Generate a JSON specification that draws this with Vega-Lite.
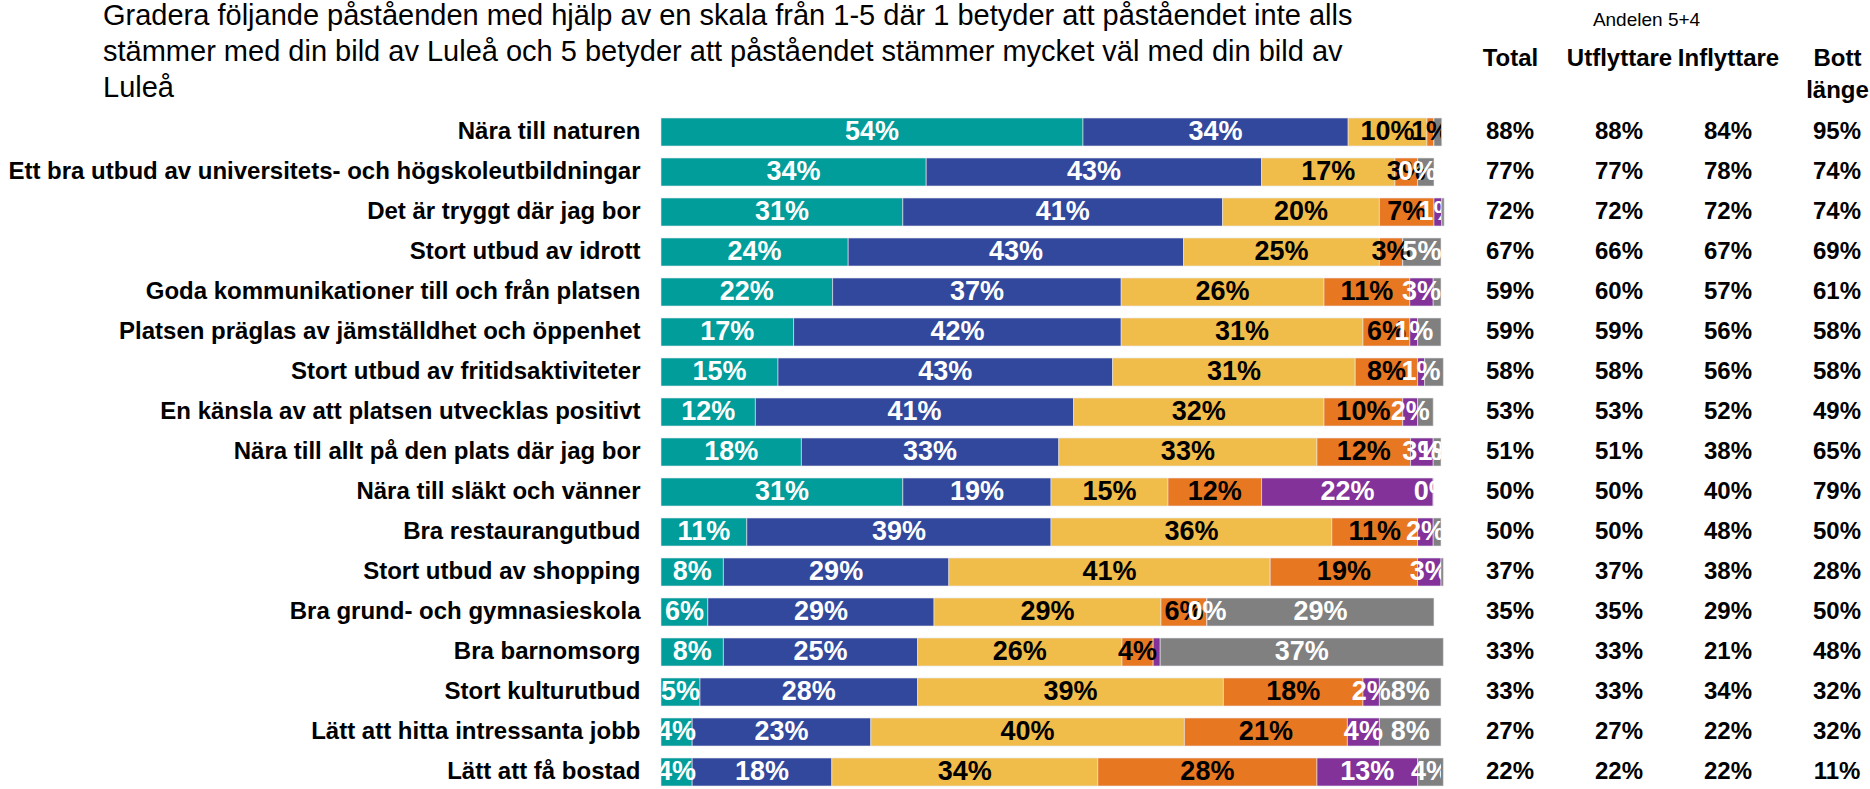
{
  "$schema": "https://vega.github.io/schema/vega-lite/v6.json",
  "padding": {"left": 7, "top": 1, "right": 0, "bottom": 0},
  "background": "white",
  "config": {"view": {"stroke": null}, "font": "Liberation Sans"},
  "bounds": "flush",
  "spacing": 40,
  "datasets": {
    "bars": [
      {"item": "Nära till naturen", "cat": "5", "v": 54.1, "lbl": "54%"},
      {"item": "Nära till naturen", "cat": "4", "v": 34.0, "lbl": "34%"},
      {"item": "Nära till naturen", "cat": "3", "v": 10.1, "lbl": "10%"},
      {"item": "Nära till naturen", "cat": "2", "v": 0.9, "lbl": "1%"},
      {"item": "Nära till naturen", "cat": "1", "v": 0, "lbl": ""},
      {"item": "Nära till naturen", "cat": "Vet ej", "v": 1.0, "lbl": ""},
      {"item": "Ett bra utbud av universitets- och högskoleutbildningar", "cat": "5", "v": 34.0, "lbl": "34%"},
      {"item": "Ett bra utbud av universitets- och högskoleutbildningar", "cat": "4", "v": 43.0, "lbl": "43%"},
      {"item": "Ett bra utbud av universitets- och högskoleutbildningar", "cat": "3", "v": 17.1, "lbl": "17%"},
      {"item": "Ett bra utbud av universitets- och högskoleutbildningar", "cat": "2", "v": 2.9, "lbl": "3%"},
      {"item": "Ett bra utbud av universitets- och högskoleutbildningar", "cat": "1", "v": 0, "lbl": "0%"},
      {"item": "Ett bra utbud av universitets- och högskoleutbildningar", "cat": "Vet ej", "v": 2.1, "lbl": ""},
      {"item": "Det är tryggt där jag bor", "cat": "5", "v": 31.0, "lbl": "31%"},
      {"item": "Det är tryggt där jag bor", "cat": "4", "v": 41.0, "lbl": "41%"},
      {"item": "Det är tryggt där jag bor", "cat": "3", "v": 20.1, "lbl": "20%"},
      {"item": "Det är tryggt där jag bor", "cat": "2", "v": 7.0, "lbl": "7%"},
      {"item": "Det är tryggt där jag bor", "cat": "1", "v": 1.0, "lbl": "1%"},
      {"item": "Det är tryggt där jag bor", "cat": "Vet ej", "v": 0.3, "lbl": ""},
      {"item": "Stort utbud av idrott", "cat": "5", "v": 24.0, "lbl": "24%"},
      {"item": "Stort utbud av idrott", "cat": "4", "v": 43.0, "lbl": "43%"},
      {"item": "Stort utbud av idrott", "cat": "3", "v": 25.1, "lbl": "25%"},
      {"item": "Stort utbud av idrott", "cat": "2", "v": 3.0, "lbl": "3%"},
      {"item": "Stort utbud av idrott", "cat": "1", "v": 0, "lbl": ""},
      {"item": "Stort utbud av idrott", "cat": "Vet ej", "v": 4.9, "lbl": "5%"},
      {"item": "Goda kommunikationer till och från platsen", "cat": "5", "v": 22.0, "lbl": "22%"},
      {"item": "Goda kommunikationer till och från platsen", "cat": "4", "v": 37.0, "lbl": "37%"},
      {"item": "Goda kommunikationer till och från platsen", "cat": "3", "v": 26.0, "lbl": "26%"},
      {"item": "Goda kommunikationer till och från platsen", "cat": "2", "v": 11.0, "lbl": "11%"},
      {"item": "Goda kommunikationer till och från platsen", "cat": "1", "v": 3.0, "lbl": "3%"},
      {"item": "Goda kommunikationer till och från platsen", "cat": "Vet ej", "v": 1.0, "lbl": ""},
      {"item": "Platsen präglas av jämställdhet och öppenhet", "cat": "5", "v": 17.0, "lbl": "17%"},
      {"item": "Platsen präglas av jämställdhet och öppenhet", "cat": "4", "v": 42.0, "lbl": "42%"},
      {"item": "Platsen präglas av jämställdhet och öppenhet", "cat": "3", "v": 31.0, "lbl": "31%"},
      {"item": "Platsen präglas av jämställdhet och öppenhet", "cat": "2", "v": 6.0, "lbl": "6%"},
      {"item": "Platsen präglas av jämställdhet och öppenhet", "cat": "1", "v": 1.0, "lbl": "1%"},
      {"item": "Platsen präglas av jämställdhet och öppenhet", "cat": "Vet ej", "v": 3.0, "lbl": ""},
      {"item": "Stort utbud av fritidsaktiviteter", "cat": "5", "v": 15.0, "lbl": "15%"},
      {"item": "Stort utbud av fritidsaktiviteter", "cat": "4", "v": 42.9, "lbl": "43%"},
      {"item": "Stort utbud av fritidsaktiviteter", "cat": "3", "v": 31.1, "lbl": "31%"},
      {"item": "Stort utbud av fritidsaktiviteter", "cat": "2", "v": 8.0, "lbl": "8%"},
      {"item": "Stort utbud av fritidsaktiviteter", "cat": "1", "v": 0.9, "lbl": "1%"},
      {"item": "Stort utbud av fritidsaktiviteter", "cat": "Vet ej", "v": 2.4, "lbl": ""},
      {"item": "En känsla av att platsen utvecklas positivt", "cat": "5", "v": 12.1, "lbl": "12%"},
      {"item": "En känsla av att platsen utvecklas positivt", "cat": "4", "v": 40.8, "lbl": "41%"},
      {"item": "En känsla av att platsen utvecklas positivt", "cat": "3", "v": 32.1, "lbl": "32%"},
      {"item": "En känsla av att platsen utvecklas positivt", "cat": "2", "v": 10.1, "lbl": "10%"},
      {"item": "En känsla av att platsen utvecklas positivt", "cat": "1", "v": 1.9, "lbl": "2%"},
      {"item": "En känsla av att platsen utvecklas positivt", "cat": "Vet ej", "v": 2.0, "lbl": ""},
      {"item": "Nära till allt på den plats där jag bor", "cat": "5", "v": 18.0, "lbl": "18%"},
      {"item": "Nära till allt på den plats där jag bor", "cat": "4", "v": 33.0, "lbl": "33%"},
      {"item": "Nära till allt på den plats där jag bor", "cat": "3", "v": 33.1, "lbl": "33%"},
      {"item": "Nära till allt på den plats där jag bor", "cat": "2", "v": 12.0, "lbl": "12%"},
      {"item": "Nära till allt på den plats där jag bor", "cat": "1", "v": 2.9, "lbl": "3%"},
      {"item": "Nära till allt på den plats där jag bor", "cat": "Vet ej", "v": 1.0, "lbl": "1%"},
      {"item": "Nära till släkt och vänner", "cat": "5", "v": 31.0, "lbl": "31%"},
      {"item": "Nära till släkt och vänner", "cat": "4", "v": 19.0, "lbl": "19%"},
      {"item": "Nära till släkt och vänner", "cat": "3", "v": 15.0, "lbl": "15%"},
      {"item": "Nära till släkt och vänner", "cat": "2", "v": 12.0, "lbl": "12%"},
      {"item": "Nära till släkt och vänner", "cat": "1", "v": 22.0, "lbl": "22%"},
      {"item": "Nära till släkt och vänner", "cat": "Vet ej", "v": 0, "lbl": "0%"},
      {"item": "Bra restaurangutbud", "cat": "5", "v": 11.0, "lbl": "11%"},
      {"item": "Bra restaurangutbud", "cat": "4", "v": 39.0, "lbl": "39%"},
      {"item": "Bra restaurangutbud", "cat": "3", "v": 36.0, "lbl": "36%"},
      {"item": "Bra restaurangutbud", "cat": "2", "v": 11.0, "lbl": "11%"},
      {"item": "Bra restaurangutbud", "cat": "1", "v": 2.0, "lbl": "2%"},
      {"item": "Bra restaurangutbud", "cat": "Vet ej", "v": 1.0, "lbl": ""},
      {"item": "Stort utbud av shopping", "cat": "5", "v": 8.0, "lbl": "8%"},
      {"item": "Stort utbud av shopping", "cat": "4", "v": 28.9, "lbl": "29%"},
      {"item": "Stort utbud av shopping", "cat": "3", "v": 41.2, "lbl": "41%"},
      {"item": "Stort utbud av shopping", "cat": "2", "v": 18.9, "lbl": "19%"},
      {"item": "Stort utbud av shopping", "cat": "1", "v": 3.0, "lbl": "3%"},
      {"item": "Stort utbud av shopping", "cat": "Vet ej", "v": 0.3, "lbl": ""},
      {"item": "Bra grund- och gymnasieskola", "cat": "5", "v": 6.0, "lbl": "6%"},
      {"item": "Bra grund- och gymnasieskola", "cat": "4", "v": 29.0, "lbl": "29%"},
      {"item": "Bra grund- och gymnasieskola", "cat": "3", "v": 29.1, "lbl": "29%"},
      {"item": "Bra grund- och gymnasieskola", "cat": "2", "v": 5.9, "lbl": "6%"},
      {"item": "Bra grund- och gymnasieskola", "cat": "1", "v": 0, "lbl": "0%"},
      {"item": "Bra grund- och gymnasieskola", "cat": "Vet ej", "v": 29.1, "lbl": "29%"},
      {"item": "Bra barnomsorg", "cat": "5", "v": 8.0, "lbl": "8%"},
      {"item": "Bra barnomsorg", "cat": "4", "v": 24.9, "lbl": "25%"},
      {"item": "Bra barnomsorg", "cat": "3", "v": 26.2, "lbl": "26%"},
      {"item": "Bra barnomsorg", "cat": "2", "v": 4.0, "lbl": "4%"},
      {"item": "Bra barnomsorg", "cat": "1", "v": 0.9, "lbl": ""},
      {"item": "Bra barnomsorg", "cat": "Vet ej", "v": 36.3, "lbl": "37%"},
      {"item": "Stort kulturutbud", "cat": "5", "v": 5.0, "lbl": "5%"},
      {"item": "Stort kulturutbud", "cat": "4", "v": 27.9, "lbl": "28%"},
      {"item": "Stort kulturutbud", "cat": "3", "v": 39.2, "lbl": "39%"},
      {"item": "Stort kulturutbud", "cat": "2", "v": 17.9, "lbl": "18%"},
      {"item": "Stort kulturutbud", "cat": "1", "v": 2.1, "lbl": "2%"},
      {"item": "Stort kulturutbud", "cat": "Vet ej", "v": 7.9, "lbl": "8%"},
      {"item": "Lätt att hitta intressanta jobb", "cat": "5", "v": 4.0, "lbl": "4%"},
      {"item": "Lätt att hitta intressanta jobb", "cat": "4", "v": 22.9, "lbl": "23%"},
      {"item": "Lätt att hitta intressanta jobb", "cat": "3", "v": 40.2, "lbl": "40%"},
      {"item": "Lätt att hitta intressanta jobb", "cat": "2", "v": 20.9, "lbl": "21%"},
      {"item": "Lätt att hitta intressanta jobb", "cat": "1", "v": 4.1, "lbl": "4%"},
      {"item": "Lätt att hitta intressanta jobb", "cat": "Vet ej", "v": 7.9, "lbl": "8%"},
      {"item": "Lätt att få bostad", "cat": "5", "v": 4.0, "lbl": "4%"},
      {"item": "Lätt att få bostad", "cat": "4", "v": 17.9, "lbl": "18%"},
      {"item": "Lätt att få bostad", "cat": "3", "v": 34.1, "lbl": "34%"},
      {"item": "Lätt att få bostad", "cat": "2", "v": 28.1, "lbl": "28%"},
      {"item": "Lätt att få bostad", "cat": "1", "v": 12.9, "lbl": "13%"},
      {"item": "Lätt att få bostad", "cat": "Vet ej", "v": 3.3, "lbl": "4%"}
    ],
    "table": [
      {"item": "Nära till naturen", "Total": 0.88, "Utflyttare": 0.88, "Inflyttare": 0.84, "Bott länge": 0.95},
      {"item": "Ett bra utbud av universitets- och högskoleutbildningar", "Total": 0.77, "Utflyttare": 0.77, "Inflyttare": 0.78, "Bott länge": 0.74},
      {"item": "Det är tryggt där jag bor", "Total": 0.72, "Utflyttare": 0.72, "Inflyttare": 0.72, "Bott länge": 0.74},
      {"item": "Stort utbud av idrott", "Total": 0.67, "Utflyttare": 0.66, "Inflyttare": 0.67, "Bott länge": 0.69},
      {"item": "Goda kommunikationer till och från platsen", "Total": 0.59, "Utflyttare": 0.60, "Inflyttare": 0.57, "Bott länge": 0.61},
      {"item": "Platsen präglas av jämställdhet och öppenhet", "Total": 0.59, "Utflyttare": 0.59, "Inflyttare": 0.56, "Bott länge": 0.58},
      {"item": "Stort utbud av fritidsaktiviteter", "Total": 0.58, "Utflyttare": 0.58, "Inflyttare": 0.56, "Bott länge": 0.58},
      {"item": "En känsla av att platsen utvecklas positivt", "Total": 0.53, "Utflyttare": 0.53, "Inflyttare": 0.52, "Bott länge": 0.49},
      {"item": "Nära till allt på den plats där jag bor", "Total": 0.51, "Utflyttare": 0.51, "Inflyttare": 0.38, "Bott länge": 0.65},
      {"item": "Nära till släkt och vänner", "Total": 0.50, "Utflyttare": 0.50, "Inflyttare": 0.40, "Bott länge": 0.79},
      {"item": "Bra restaurangutbud", "Total": 0.50, "Utflyttare": 0.50, "Inflyttare": 0.48, "Bott länge": 0.50},
      {"item": "Stort utbud av shopping", "Total": 0.37, "Utflyttare": 0.37, "Inflyttare": 0.38, "Bott länge": 0.28},
      {"item": "Bra grund- och gymnasieskola", "Total": 0.35, "Utflyttare": 0.35, "Inflyttare": 0.29, "Bott länge": 0.50},
      {"item": "Bra barnomsorg", "Total": 0.33, "Utflyttare": 0.33, "Inflyttare": 0.21, "Bott länge": 0.48},
      {"item": "Stort kulturutbud", "Total": 0.33, "Utflyttare": 0.33, "Inflyttare": 0.34, "Bott länge": 0.32},
      {"item": "Lätt att hitta intressanta jobb", "Total": 0.27, "Utflyttare": 0.27, "Inflyttare": 0.22, "Bott länge": 0.32},
      {"item": "Lätt att få bostad", "Total": 0.22, "Utflyttare": 0.22, "Inflyttare": 0.22, "Bott länge": 0.11}
    ]
  },
  "hconcat": [
    {
      "width": 780,
      "height": 668,
      "title": {
        "text": [
          "Gradera följande påståenden med hjälp av en skala från 1-5 där 1 betyder att påståendet inte alls",
          "stämmer med din bild av Luleå och 5 betyder att påståendet stämmer mycket väl med din bild av",
          "Luleå"
        ],
        "anchor": "start",
        "frame": "group",
        "dx": -558,
        "offset": 15,
        "fontSize": 29,
        "fontWeight": "normal",
        "lineHeight": 36,
        "color": "black",
        "font": "Liberation Sans"
      },
      "data": {"name": "bars"},
      "transform": [
        {"calculate": "indexof(['5','4','3','2','1','Vet ej'], datum.cat)", "as": "rank"},
        {"stack": "v", "groupby": ["item"], "sort": [{"field": "rank", "order": "ascending"}], "as": ["v0", "v1"]},
        {"calculate": "(datum.v0 + datum.v1) / 2", "as": "mid"}
      ],
      "encoding": {
        "y": {
          "field": "item",
          "type": "nominal",
          "sort": null,
          "scale": {"type": "band", "paddingInner": 0.3, "paddingOuter": 0},
          "axis": {
            "title": null,
            "labelFontSize": 24,
            "labelFontWeight": "bold",
            "labelColor": "black",
            "labelPadding": 21,
            "labelLimit": 800,
            "ticks": false,
            "domain": false,
            "labelFont": "Liberation Sans"
          }
        }
      },
      "layer": [
        {
          "mark": {"type": "bar", "stroke": "#e8e8f0", "strokeWidth": 0.6},
          "encoding": {
            "x": {"field": "v0", "type": "quantitative", "scale": {"domain": [0, 100], "nice": false, "zero": true}, "axis": null},
            "x2": {"field": "v1"},
            "color": {
              "field": "cat",
              "type": "nominal",
              "scale": {
                "domain": ["5", "4", "3", "2", "1", "Vet ej"],
                "range": ["#009D9A", "#32489C", "#F1BD4A", "#E87722", "#83329A", "#808080"]
              },
              "legend": null
            }
          }
        },
        {
          "mark": {"type": "text", "fontSize": 27, "fontWeight": "bold", "clip": true, "font": "Liberation Sans"},
          "encoding": {
            "x": {"field": "mid", "type": "quantitative"},
            "text": {"field": "lbl"},
            "color": {
              "condition": {"test": "datum.cat === '3' || datum.cat === '2'", "value": "black"},
              "value": "white"
            }
          }
        }
      ]
    },
    {
      "width": 385,
      "height": 668,
      "title": {
        "text": "Andelen 5+4",
        "anchor": "middle",
        "dx": -27,
        "offset": 16,
        "fontSize": 19,
        "fontWeight": "normal",
        "color": "black",
        "font": "Liberation Sans"
      },
      "data": {"name": "table"},
      "transform": [
        {"fold": ["Total", "Utflyttare", "Inflyttare", "Bott länge"], "as": ["grp", "val"]}
      ],
      "mark": {"type": "text", "fontSize": 24, "fontWeight": "bold", "color": "black", "font": "Liberation Sans"},
      "encoding": {
        "y": {
          "field": "item",
          "type": "nominal",
          "sort": null,
          "scale": {"type": "band", "paddingInner": 0.3, "paddingOuter": 0},
          "axis": null
        },
        "x": {
          "field": "grp",
          "type": "nominal",
          "sort": ["Total", "Utflyttare", "Inflyttare", "Bott länge"],
          "scale": {"type": "point", "padding": 0.266},
          "axis": {
            "orient": "top",
            "title": null,
            "labelAngle": 0,
            "labelFontSize": 24,
            "labelFontWeight": "bold",
            "labelColor": "black",
            "labelFont": "Liberation Sans",
            "ticks": false,
            "domain": false,
            "labelBaseline": "top",
            "labelPadding": 72,
            "labelLineHeight": 32,
            "labelLimit": 300,
            "labelExpr": "datum.value == 'Bott länge' ? ['Bott', 'länge'] : datum.value"
          }
        },
        "text": {"field": "val", "type": "quantitative", "format": ".0%"}
      }
    }
  ]
}
